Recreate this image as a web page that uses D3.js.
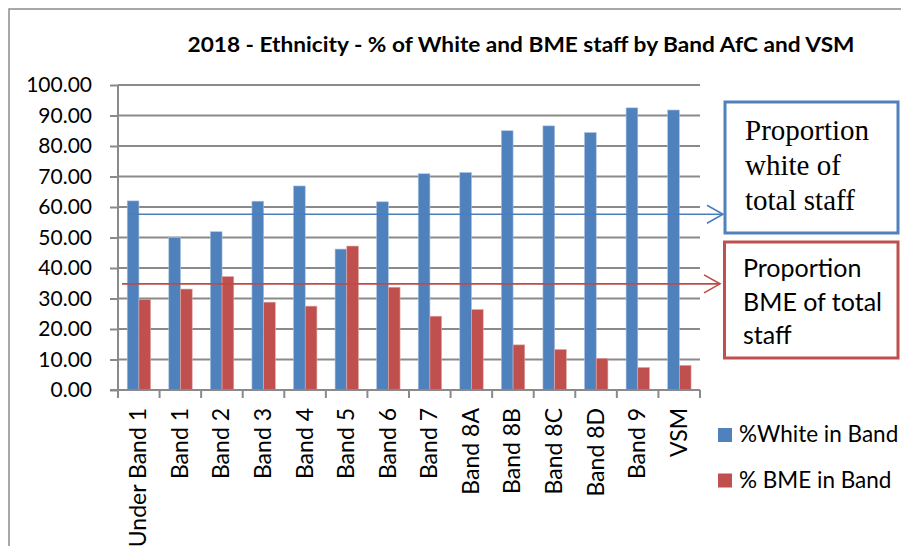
<!DOCTYPE html>
<html>
<head>
<meta charset="utf-8">
<script src="https://cdn.jsdelivr.net/npm/d3@7"></script>
<style>
  html, body { margin: 0; padding: 0; background: #fff; }
  svg { display: block; }
  text { fill: #000; }
</style>
</head>
<body>
<svg id="chart" width="901" height="546"></svg>
<script>
// ---- data ----
const categories = ["Under Band 1", "Band 1", "Band 2", "Band 3", "Band 4", "Band 5", "Band 6",
                    "Band 7", "Band 8A", "Band 8B", "Band 8C", "Band 8D", "Band 9", "VSM"];
const whitePct = [62.0, 50.0, 51.9, 61.9, 66.9, 46.2, 61.7, 70.9, 71.3, 85.0, 86.6, 84.4, 92.5, 91.8];
const bmePct   = [29.7, 33.1, 37.2, 28.8, 27.5, 47.2, 33.7, 24.2, 26.4, 14.8, 13.3, 10.4, 7.4, 8.1];
const seriesNames = ["%White in Band", "% BME in Band"];
const yTicks = [0, 10, 20, 30, 40, 50, 60, 70, 80, 90, 100];
const totalWhite = 57.6;
const totalBme = 34.8;
const title = "2018 - Ethnicity - % of White and BME staff by Band AfC and VSM";
const whiteBoxLines = ["Proportion", "white of", "total staff"];
const bmeBoxLines = ["Proportion", "BME of total", "staff"];

// ---- layout ----
const svg = d3.select("#chart");
const sans = "Lato, 'Open Sans', sans-serif";
const serif = "'Liberation Serif', 'DejaVu Serif', serif";
const colors = ["#4F81BD", "#C0504D"];
const gridColor = "#8a8a8a";
const plotL = 118, plotR = 700, plotT = 85, plotB = 390;

const y = d3.scaleLinear().domain([0, 100]).range([plotB, plotT]);
const x = d3.scaleBand().domain(categories).range([plotL, plotR]).padding(0);
const bw = x.bandwidth();
const x1 = d3.scaleBand().domain([0, 1]).range([0.222 * bw, 0.785 * bw]).padding(0);

// outer frame (left and top edges visible)
svg.append("path")
  .attr("d", "M9,546 L9,9 L901,9")
  .attr("fill", "none").attr("stroke", "#8c8c8c").attr("stroke-width", 1.5);

// title
svg.append("text")
  .attr("x", 521).attr("y", 52)
  .attr("text-anchor", "middle")
  .style("font-family", sans)
  .style("font-weight", "bold")
  .style("font-size", "20px")
  .attr("textLength", 667).attr("lengthAdjust", "spacingAndGlyphs")
  .text(title);

// gridlines
svg.append("g").selectAll("line").data(yTicks.filter(d => d > 0)).join("line")
  .attr("x1", plotL).attr("x2", plotR)
  .attr("y1", d => y(d)).attr("y2", d => y(d))
  .attr("stroke", gridColor).attr("stroke-width", 2);

// y axis
const yAxis = d3.axisLeft(y).tickValues(yTicks).tickFormat(d3.format(".2f")).tickSize(8).tickPadding(18);
const gy = svg.append("g").attr("transform", `translate(${plotL},0)`).call(yAxis);
gy.select(".domain").attr("stroke", gridColor).attr("stroke-width", 2).attr("d", `M0,${plotT}V${plotB + 8}`);
gy.selectAll(".tick line").attr("stroke", gridColor).attr("stroke-width", 2);
gy.selectAll(".tick text").style("font-size", "21px").style("font-family", sans).attr("fill", "#000");

// bars
const gBars = svg.append("g");
categories.forEach((c, i) => {
  [whitePct[i], bmePct[i]].forEach((v, s) => {
    gBars.append("rect")
      .attr("x", x(c) + x1(s))
      .attr("y", y(v))
      .attr("width", x1.bandwidth())
      .attr("height", y(0) - y(v))
      .attr("fill", colors[s])
      .attr("stroke", s === 0 ? "#a9c1e0" : "#e2a9a7")
      .attr("stroke-width", 0.6);
  });
});

// x axis
const xAxisG = svg.append("g").attr("transform", `translate(0,${plotB})`);
xAxisG.append("line").attr("x1", plotL - 8).attr("x2", plotR).attr("y1", 0).attr("y2", 0)
  .attr("stroke", gridColor).attr("stroke-width", 2);
const boundaries = categories.map(c => x(c)).concat([plotR]);
xAxisG.selectAll("line.tk").data(boundaries).join("line").attr("class", "tk")
  .attr("x1", d => d).attr("x2", d => d).attr("y1", 0).attr("y2", 8)
  .attr("stroke", gridColor).attr("stroke-width", 2);
xAxisG.selectAll("text.lbl").data(categories).join("text").attr("class", "lbl")
  .attr("transform", d => `translate(${x(d) + bw / 2 + 7.5},18) rotate(-90)`)
  .attr("text-anchor", "end")
  .style("font-family", sans)
  .style("font-size", "23px")
  .text(d => d);

// reference lines with arrow heads
function refLine(val, x0, tipX, color) {
  const yy = y(val);
  svg.append("line").attr("x1", x0).attr("x2", tipX).attr("y1", yy).attr("y2", yy)
    .attr("stroke", color).attr("stroke-width", 1.6);
  svg.append("path")
    .attr("d", `M${tipX - 16},${yy - 9} L${tipX},${yy} L${tipX - 16},${yy + 9}`)
    .attr("fill", "none").attr("stroke", color).attr("stroke-width", 1.6);
}
refLine(totalWhite, 128, 723, "#4A7EBB");
refLine(totalBme, 122, 720, "#BE4B48");

// annotation boxes
svg.append("rect").attr("x", 725).attr("y", 102).attr("width", 173).attr("height", 131)
  .attr("fill", "#fff").attr("stroke", "#4F81BD").attr("stroke-width", 3);
svg.append("rect").attr("x", 724.5).attr("y", 242).attr("width", 173.5).attr("height", 116)
  .attr("fill", "#fff").attr("stroke", "#C0504D").attr("stroke-width", 3);

svg.append("g").selectAll("text").data(whiteBoxLines).join("text")
  .attr("x", 745).attr("y", (d, i) => 140 + i * 35)
  .style("font-family", serif)
  .style("font-size", "29px")
  .text(d => d);
svg.append("g").selectAll("text").data(bmeBoxLines).join("text")
  .attr("x", 743).attr("y", (d, i) => 277 + i * 33.5)
  .style("font-family", sans)
  .style("font-size", "25px")
  .text(d => d);

// legend
const lg = svg.append("g");
seriesNames.forEach((n, i) => {
  lg.append("rect").attr("x", 718).attr("y", 428 + i * 45.5).attr("width", 14).attr("height", 14)
    .attr("fill", colors[i]);
  lg.append("text").attr("x", 739).attr("y", 442 + i * 45.5)
    .style("font-family", sans).style("font-size", "22.5px").text(n);
});
</script>
</body>
</html>
